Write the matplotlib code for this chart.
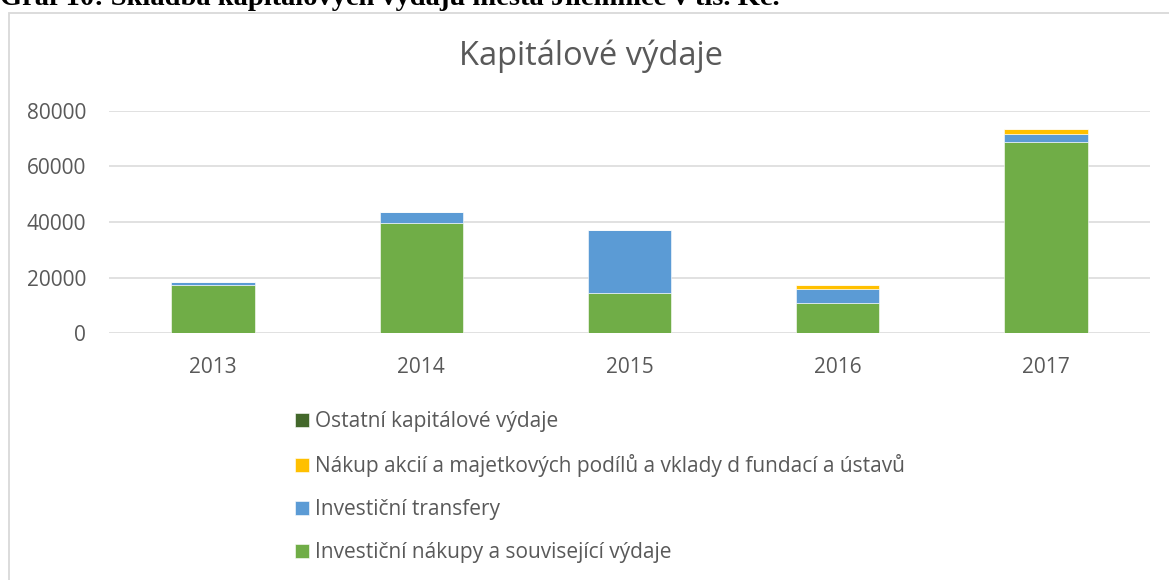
import matplotlib.pyplot as plt
import matplotlib.patches as mpatches
import numpy as np

plt.rcParams['font.family'] = ['Open Sans', 'DejaVu Sans']

# Data (tis. Kc)
years = ['2013', '2014', '2015', '2016', '2017']
investicni_nakupy = [17400, 39600, 14600, 10800, 68700]
investicni_transfery = [1100, 4000, 22600, 5100, 3000]
nakup_akcii = [0, 0, 0, 1600, 1600]
ostatni = [0, 0, 0, 0, 0]

series_names = ['Investiční nákupy a související výdaje',
                'Investiční transfery',
                'Nákup akcií a majetkových podílů a vklady d fundací a ústavů',
                'Ostatní kapitálové výdaje']
colors = ['#70AD47', '#5B9BD5', '#FFC000', '#43682B']
text_col = '#595959'

fig = plt.figure(figsize=(11.69, 5.8), dpi=100)
W, H = 1169, 580

# outer chart frame (light grey, runs off the right/bottom)
fig.patches.append(mpatches.Rectangle((8.5 / W, -0.05), 1.2, (H - 12.5) / H + 0.05,
                                      transform=fig.transFigure, fill=False,
                                      edgecolor='#d9d9d9', linewidth=1.3))

# caption cut off at the top
fig.text(0.0, (H - 5) / H, 'Graf 10: Skladba kapitálových výdajů města Jilemnice v tis. Kč.',
         family='Liberation Serif', fontweight='bold', fontsize=20.5, va='baseline', ha='left')

ax = fig.add_axes([109 / W, (H - 333.3) / H, 1041 / W, 222.6 / H])

x = np.arange(len(years))
data = [investicni_nakupy, investicni_transfery, nakup_akcii, ostatni]
bottom = np.zeros(len(years))
handles = []
for vals, name, c in zip(data, series_names, colors):
    b = ax.bar(x, vals, width=0.4, bottom=bottom, color=c, edgecolor='#ffffff',
               linewidth=0.4, label=name, zorder=3)
    handles.append(b)
    bottom += np.array(vals)

ax.set_xlim(-0.5, len(years) - 0.5)
ax.set_ylim(0, 80000)
ax.set_yticks([0, 20000, 40000, 60000, 80000])
ax.set_xticks(x)
ax.set_xticklabels(years)
ax.grid(axis='y', color='#d9d9d9', linewidth=1.1, zorder=0)
for s in ax.spines.values():
    s.set_visible(False)
ax.tick_params(axis='both', length=0, labelsize=15, colors=text_col)
ax.tick_params(axis='y', pad=16.5)
ax.tick_params(axis='x', pad=17)

fig.text(591 / W, (H - 56) / H, 'Kapitálové výdaje', fontsize=23.5, color=text_col,
         ha='center', va='center')

leg = fig.legend(handles[::-1], series_names[::-1], loc='upper left',
                 bbox_to_anchor=(287 / W, (H - 403) / H), frameon=False,
                 fontsize=15, labelspacing=1.05, handlelength=0.65, handleheight=0.65,
                 handletextpad=0.3, borderaxespad=0)
for t in leg.get_texts():
    t.set_color(text_col)

fig.savefig('out.png', dpi=100)
